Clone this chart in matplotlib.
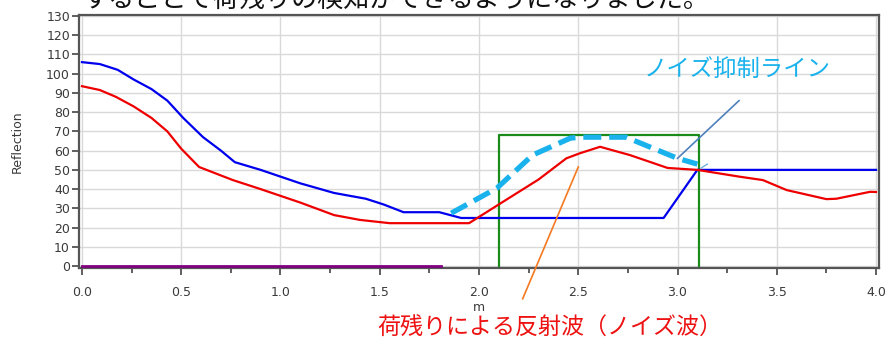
import matplotlib
matplotlib.use("Agg")
import matplotlib.pyplot as plt
from matplotlib.ticker import MultipleLocator

plt.rcParams['font.family'] = ['DejaVu Sans', 'Noto Sans CJK JP']

# Reflection profiles along the distance axis (m)
blue_x = [0.0, 0.09, 0.18, 0.26, 0.35, 0.43, 0.51, 0.61, 0.70, 0.77, 0.90, 1.00,
          1.10, 1.27, 1.43, 1.52, 1.62, 1.80, 1.91, 2.93, 3.10, 4.0]
blue_y = [106, 105, 102, 97, 92, 86, 77, 67, 60, 54, 50, 46.5,
          43, 38, 35, 32, 28, 28, 25, 25, 50, 50]

red_x = [0.0, 0.09, 0.17, 0.26, 0.35, 0.43, 0.50, 0.59, 0.76, 0.90, 1.00, 1.10,
         1.27, 1.40, 1.55, 1.95, 2.11, 2.30, 2.44, 2.51, 2.61, 2.76, 2.95, 3.10,
         3.31, 3.43, 3.55, 3.75, 3.80, 3.97, 4.0]
red_y = [93.5, 91.5, 88, 83, 77, 70, 61, 51.5, 44.7, 40, 36.5, 33,
         26.5, 24, 22.3, 22.3, 32.7, 45, 56, 58.7, 62, 57.7, 51, 50,
         46.5, 44.7, 39.5, 34.8, 35, 38.6, 38.5]

# Noise suppression line (dashed)
noise_x = [1.86, 2.09, 2.27, 2.46, 2.51, 2.74, 3.00, 3.10]
noise_y = [27.5, 40.5, 57.7, 66.5, 67, 67, 56, 53]

# Detection window
window_x = [2.10, 2.10, 3.11, 3.11]
window_y = [0, 68, 68, 0]

# Baseline segment
base_x = [0.0, 1.81]
base_y = [0, 0]

x_ticks = [0.0, 0.5, 1.0, 1.5, 2.0, 2.5, 3.0, 3.5, 4.0]
y_ticks = list(range(0, 131, 10))

fig = plt.figure(figsize=(8.95, 3.38), dpi=100)
ax = fig.add_axes([79 / 895, 1 - 268 / 338, 800 / 895, 253 / 338])

ax.set_xlim(-0.015, 4.015)
ax.set_ylim(-1.0, 130.5)

ax.set_xticks(x_ticks)
ax.set_xticklabels([f"{v:.1f}" for v in x_ticks])
ax.xaxis.set_minor_locator(MultipleLocator(0.25))
ax.set_yticks(y_ticks)

ax.grid(True, which='major', color='#d9d9d9', linewidth=1.0)
ax.set_axisbelow(True)

for s in ax.spines.values():
    s.set_color('#555555')
    s.set_linewidth(1.6)

ax.tick_params(axis='both', which='major', direction='out', length=5,
               width=1.2, color='#444444', labelsize=9, labelcolor='#3a3a3a')
ax.tick_params(axis='x', which='major', pad=8)
ax.tick_params(axis='y', which='major', pad=1.5)
ax.tick_params(axis='x', which='minor', direction='out', length=3.5,
               width=1.2, color='#444444')

ax.plot(base_x, base_y, color='#800080', linewidth=2.0, zorder=3)
ax.plot(window_x, window_y, color='#1a8a1a', linewidth=1.6, zorder=3)
ax.plot(blue_x, blue_y, color='#0000ee', linewidth=1.6, zorder=4)
ax.plot(red_x, red_y, color='#ee0000', linewidth=1.6, zorder=5)
ax.plot(noise_x, noise_y, color='#19b2ec', linewidth=3.8,
        dashes=[3.4, 1.5], solid_capstyle='butt', dash_capstyle='butt', zorder=6)

# Callout leaders
ax.plot([3.00, 3.31], [56, 86], color='#4f81bd', linewidth=1.2, zorder=7)
ax.plot([3.12, 3.15], [51, 53], color='#6fb0e0', linewidth=1.0, zorder=7)
ax.plot([2.22, 2.50], [-17, 51.5], color='#f47920', linewidth=1.2,
        zorder=7, clip_on=False)

ax.text(3.30, 102, 'ノイズ抑制ライン', color='#19b2ec', fontsize=16.8,
        family=['Noto Sans CJK JP'], ha='center', va='center')

ax.set_xlabel('m', fontsize=9, color='#3a3a3a', labelpad=1.5)
ax.set_ylabel('Reflection', fontsize=9, color='#3a3a3a', labelpad=16)

fig.text(377 / 895, 1 - 328 / 338, '荷残りによる反射波（ノイズ波）', color='#ee1111',
         fontsize=16.6, family=['Noto Sans CJK JP'], ha='left', va='center')

fig.text(82 / 895, 1 - 7 / 338, 'することで荷残りの検知ができるようになりました。',
         color='#111111', fontsize=18.8, family=['Noto Sans CJK JP'],
         ha='left', va='baseline')

fig.savefig('out.png', dpi=100)
